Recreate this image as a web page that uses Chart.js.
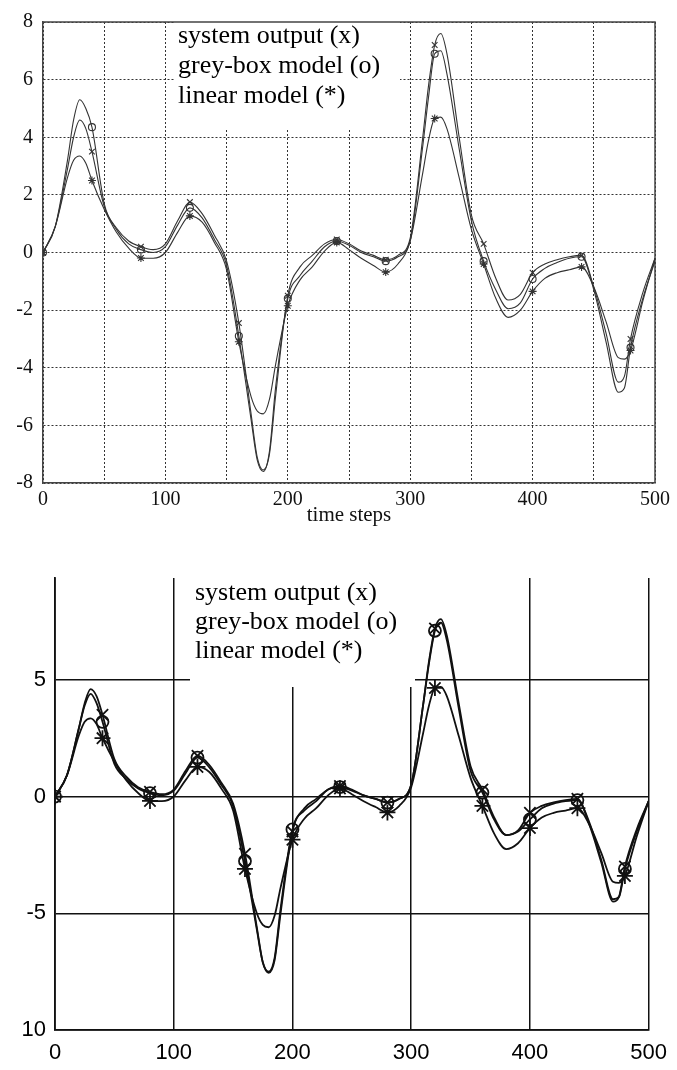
<!DOCTYPE html>
<html>
<head>
<meta charset="utf-8">
<script src="https://cdn.jsdelivr.net/npm/chart.js@4/dist/chart.umd.min.js"></script>
<style>
    html, body { margin: 0; padding: 0; background: #fff; }
    canvas { display: block; }
</style>
</head>
<body>
<canvas id="chart-top" width="677" height="535"></canvas>
<canvas id="chart-bottom" width="677" height="535"></canvas>
<script>
// time steps shared by every curve (denser around the peaks)
const steps = [0, 10, 20, 25, 30, 35, 40, 50, 60, 70, 80, 90, 100, 110, 120, 130, 140, 150, 160, 170,
    175, 180, 185, 190, 200, 210, 220, 230, 240, 250, 260, 270, 280, 290, 300, 310, 315, 320, 325, 330,
    340, 350, 360, 370, 380, 390, 400, 410, 420, 430, 440, 450, 460, 470, 475, 480, 490, 500];

const systemOutput = [0, 0.9, 2.9, 4.0, 4.6, 4.3, 3.5, 1.6, 0.85, 0.4, 0.2, 0.1, 0.3, 1.1, 1.75, 1.35, 0.6, -0.3, -2.45, -5.6,
    -7.1, -7.55, -7.0, -5.0, -1.5, -0.5, -0.1, 0.3, 0.45, 0.3, 0.05, -0.1, -0.25, -0.1, 0.5, 3.9, 5.8, 7.2, 7.6, 6.9,
    4.0, 1.3, 0.3, -0.9, -1.65, -1.45, -0.7, -0.4, -0.25, -0.15, -0.1, -1.2, -2.8, -4.5, -4.3, -3.0, -1.4, -0.2];

// grey-box model, first study (top panel)
const greyBoxTop = [0, 0.9, 3.2, 4.6, 5.3, 5.0, 4.35, 1.7, 0.8, 0.3, 0.1, 0.0, 0.2, 0.95, 1.55, 1.2, 0.45, -0.45, -2.9, -5.8,
    -7.2, -7.6, -6.9, -4.7, -1.6, -0.8, -0.3, 0.2, 0.4, 0.25, 0.0, -0.15, -0.3, -0.15, 0.4, 3.6, 5.4, 6.9, 7.0, 6.2,
    3.6, 1.1, -0.3, -1.3, -1.95, -1.75, -0.92, -0.55, -0.35, -0.2, -0.15, -1.3, -3.1, -4.85, -4.7, -3.3, -1.6, -0.3];

// grey-box model, second study (bottom panel)
const greyBoxBottom = [0, 0.9, 2.9, 3.9, 4.4, 4.0, 3.2, 1.4, 0.75, 0.35, 0.15, 0.05, 0.25, 1.0, 1.67, 1.25, 0.5, -0.4, -2.76, -5.7,
    -7.1, -7.5, -6.9, -4.8, -1.41, -0.6, -0.2, 0.3, 0.4, 0.25, 0.05, -0.1, -0.26, -0.1, 0.5, 3.9, 5.7, 7.1, 7.45, 6.7,
    3.8, 1.1, 0.17, -1.0, -1.65, -1.5, -0.98, -0.5, -0.3, -0.2, -0.15, -1.1, -2.7, -4.4, -4.3, -3.1, -1.5, -0.2];

const linearModel = [0, 0.9, 2.6, 3.2, 3.35, 3.1, 2.5, 1.5, 0.7, 0.15, -0.19, -0.2, 0.0, 0.7, 1.27, 1.05, 0.35, -0.6, -3.1, -5.0,
    -5.5, -5.6, -5.1, -3.9, -1.85, -0.95, -0.5, 0.05, 0.35, 0.1, -0.2, -0.45, -0.68, -0.4, 0.4, 2.7, 3.9, 4.65, 4.7, 4.3,
    2.6, 0.8, -0.4, -1.6, -2.25, -2.0, -1.35, -0.9, -0.7, -0.6, -0.5, -1.2, -2.4, -3.65, -3.7, -3.4, -1.7, -0.2];

const legendLines = ['system output (x)', 'grey-box model (o)', 'linear model (*)'];
const markerEvery = 40;

const bottomYTicks = [-10, -5, 0, 5];
const bottomYLabels = ['10', '-5', '0', '5'];

(function () {
    function points(values) {
        return steps.map((t, i) => ({ x: t, y: values[i] }));
    }

    function series(values, style, color, width, radius) {
        return {
            data: points(values),
            borderColor: color,
            borderWidth: width,
            cubicInterpolationMode: 'monotone',
            pointStyle: style,
            pointRadius: (c) => (steps[c.dataIndex] % markerEvery === 0 ? radius : 0),
            pointBorderColor: color,
            pointBorderWidth: width,
            pointBackgroundColor: 'rgba(0,0,0,0)',
            pointHoverRadius: 0,
        };
    }

    // white box with the legend text, drawn over the grid
    const legendBox = {
        id: 'legendBox',
        beforeDatasetsDraw(chart, args, o) {
            const ctx = chart.ctx;
            ctx.save();
            ctx.fillStyle = '#fff';
            ctx.fillRect(o.x, o.y, o.w, o.h);
            if (o.frame) {
                const a = chart.chartArea;
                ctx.strokeStyle = '#444';
                ctx.lineWidth = 1.5;
                ctx.beginPath();
                ctx.moveTo(a.left, a.top);
                ctx.lineTo(a.right, a.top);
                ctx.lineTo(a.right, a.bottom);
                ctx.stroke();
            }
            ctx.fillStyle = '#000';
            ctx.font = '26px "Liberation Serif", "Times New Roman", serif';
            ctx.textBaseline = 'alphabetic';
            legendLines.forEach((t, i) => ctx.fillText(t, o.textX, o.baseline + i * o.gap));
            ctx.restore();
        },
    };

    const serifTick = { family: '"Liberation Serif", "Times New Roman", serif', size: 20 };
    const sansTick = { family: '"Liberation Sans", Arial, sans-serif', size: 22 };

    new Chart(document.getElementById('chart-top'), {
        type: 'line',
        data: {
            datasets: [
                series(systemOutput, 'crossRot', '#333', 1.1, 4),
                series(greyBoxTop, 'circle', '#333', 1.1, 3.5),
                series(linearModel, 'star', '#333', 1.1, 4),
            ],
        },
        options: {
            responsive: false,
            animation: false,
            layout: { padding: { left: 0, right: 22, top: 9, bottom: 0 } },
            plugins: {
                legend: { display: false },
                tooltip: { enabled: false },
                legendBox: { x: 175, y: 11, w: 225, h: 118, textX: 178, baseline: 43, gap: 30, frame: true },
            },
            scales: {
                x: {
                    type: 'linear',
                    min: 0,
                    max: 500,
                    ticks: {
                        stepSize: 50,
                        autoSkip: false,
                        maxRotation: 0,
                        padding: 5,
                        color: '#111',
                        font: serifTick,
                        callback: (v) => (v % 100 === 0 ? v : ''),
                    },
                    grid: { color: '#333', lineWidth: 1, drawTicks: false },
                    border: { display: true, color: '#444', width: 1.5, dash: [2, 2] },
                    title: {
                        display: true,
                        text: 'time steps',
                        color: '#111',
                        padding: { top: 0, bottom: 7 },
                        font: { family: '"Liberation Serif", "Times New Roman", serif', size: 21 },
                    },
                    afterFit: (s) => { s.height = 52; },
                },
                y: {
                    min: -8,
                    max: 8,
                    ticks: { stepSize: 2, padding: 10, color: '#111', font: serifTick },
                    grid: { color: '#333', lineWidth: 1, drawTicks: false },
                    border: { display: true, color: '#444', width: 1.5, dash: [2, 2] },
                    afterFit: (s) => { s.width = 43; },
                },
            },
        },
        plugins: [legendBox],
    });

    new Chart(document.getElementById('chart-bottom'), {
        type: 'line',
        data: {
            datasets: [
                series(systemOutput, 'crossRot', '#111', 1.8, 8),
                series(greyBoxBottom, 'circle', '#111', 1.8, 6),
                series(linearModel, 'star', '#111', 1.8, 8),
            ],
        },
        options: {
            responsive: false,
            animation: false,
            layout: { padding: { left: 0, right: 27, top: 43, bottom: 0 } },
            plugins: {
                legend: { display: false },
                tooltip: { enabled: false },
                legendBox: { x: 190, y: 30, w: 225, h: 122, textX: 195, baseline: 65, gap: 29, frame: false },
            },
            scales: {
                x: {
                    type: 'linear',
                    min: 0,
                    max: 500,
                    ticks: { stepSize: 100, maxRotation: 0, padding: 10, color: '#000', font: sansTick },
                    grid: { color: '#111', lineWidth: 1.5, drawTicks: false },
                    border: { display: true, color: '#111', width: 1.8 },
                    afterFit: (s) => { s.height = 40; },
                },
                y: {
                    min: -10,
                    max: 9.36,
                    afterBuildTicks: (s) => { s.ticks = bottomYTicks.map((v) => ({ value: v })); },
                    ticks: {
                        padding: 9,
                        color: '#000',
                        font: sansTick,
                        callback: (v) => bottomYLabels[bottomYTicks.indexOf(v)],
                    },
                    grid: { color: '#111', lineWidth: 1.5, drawTicks: false },
                    border: { display: true, color: '#111', width: 1.8 },
                    afterFit: (s) => { s.width = 55; },
                },
            },
        },
        plugins: [legendBox],
    });
})();
</script>
</body>
</html>
